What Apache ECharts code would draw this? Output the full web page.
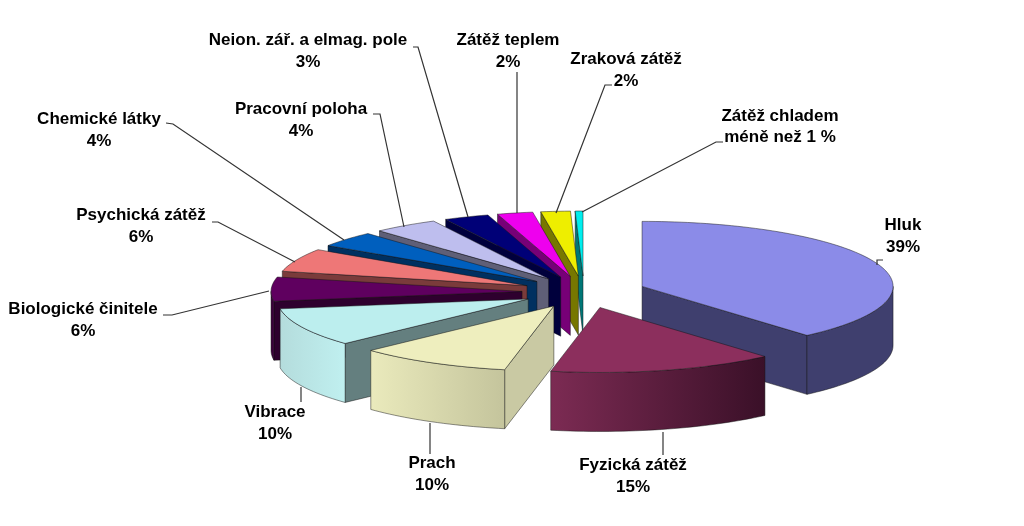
<!DOCTYPE html>
<html><head><meta charset="utf-8">
<style>html,body{margin:0;padding:0;background:#fff}#c{width:1024px;height:526px}</style>
<script src="https://cdn.jsdelivr.net/npm/echarts@6/dist/echarts.min.js"></script>
</head><body><div id="c"></div>
<script>
const categories = ['Hluk','Fyzická zátěž','Prach','Vibrace','Biologické činitele','Psychická zátěž','Chemické látky','Pracovní poloha','Neion. zář. a elmag. pole','Zátěž teplem','Zraková zátěž','Zátěž chladem'];
const values = [38.7,14.6,9.9,9.6,6,5.8,3.9,4.2,2.9,2.3,1.9,0.5];
const valueLabels = ['39%','15%','10%','10%','6%','6%','4%','4%','3%','2%','2%','méně než 1 %'];
const topColors = ['#8B8BE8','#8C2F5D','#EEEEBE','#BCEEEE','#5F005F','#EE7777','#005FBE','#BEBEEE','#000077','#EE00EE','#EEEE00','#00EEEE'];
const wallFrom = ['#3F3F6E','#7C2B53','#EAEABC','#B4DCDC','#3A003A','#7A3B3B','#003060','#5F5F77','#00003C','#770077','#777700','#007777'];
const wallTo   = ['#3F3F6E','#3A1028','#C4C49C','#C0F0F0','#3A003A','#7A3B3B','#003060','#5F5F77','#00003C','#770077','#777700','#007777'];
const sideColors = ['#3F3F6E','#4A1A34','#C9C9A3','#647F7F','#2E002E','#7A3B3B','#003060','#5F5F77','#00003C','#770077','#777700','#007777'];
const labelCentres = [[903,236.5],[633,476.5],[432,474.5],[275,423.5],[83,320.5],[141,226.5],[99,130.5],[301,120.5],[308,51.5],[508,51.5],[626,70.5],[780,127]];
const leaders = [
 [[883,260],[877,260],[877,265]],[[663,432],[663,455]],[[430,423],[430,454]],[[301,387],[301,402]],
 [[163,315],[172,315],[269,291]],[[212,222],[218,222],[295,262]],[[166,123],[173,124],[344,240]],
 [[373,114],[380,114],[404,227]],[[413,47],[418,47],[468,217]],[[517,72],[517,213]],
 [[612,85],[605,85],[556,213]],[[723,142],[716,142],[582,212]]
];
const PIE = {cx:584, cy:292, rx:251, ry:65, depth:59, ex:62, ey:16};
const total = values.reduce((a,b)=>a+b,0);
const rad = d => d*Math.PI/180;
let acc = 0;
const slices = values.map(v=>{const s={a:acc/total*360,b:(acc+v)/total*360};acc+=v;s.mid=(s.a+s.b)/2;return s;});
const order = slices.map((s,i)=>[Math.cos(rad(s.mid)),i]).sort((p,q)=>q[0]-p[0]).map(p=>p[1]);
const rank = []; order.forEach((i,k)=>rank[i]=k);

function renderItem(params, api){
  const i = params.dataIndex, s = slices[i];
  const ax = PIE.cx + PIE.ex*Math.sin(rad(s.mid));
  const ay = PIE.cy - PIE.ey*Math.cos(rad(s.mid));
  const P = d => [ax+PIE.rx*Math.sin(rad(d)), ay-PIE.ry*Math.cos(rad(d))];
  const down = p => [p[0],p[1]+PIE.depth];
  const arc = (f,t)=>{const n=Math.max(2,Math.ceil(Math.abs(t-f)/1.5));const o=[];for(let k=0;k<=n;k++)o.push(P(f+(t-f)*k/n));return o;};
  const line = {stroke:'rgba(20,20,20,0.8)',lineWidth:0.6,lineJoin:'round'};
  const z0 = rank[i]*10+1;
  const kids = [];
  const poly = (pts,fill,z)=>kids.push({type:'polygon',shape:{points:pts},style:Object.assign({fill},line),z2:z0+z});
  const sinA = Math.sin(rad(s.a)), sinB = Math.sin(rad(s.b));
  if(sinA<0){const r=P(s.a),A=[ax,ay];poly([A,r,down(r),down(A)],sideColors[i],0);}
  if(sinB>0){const r=P(s.b),A=[ax,ay];poly([A,r,down(r),down(A)],sideColors[i],0);}
  const f=Math.max(s.a,90),t=Math.min(s.b,270);
  if(t>f){
    const top=arc(f,t);
    const bot=top.map(down).reverse();
    poly(top.concat(bot),new echarts.graphic.LinearGradient(0,0,1,0,[{offset:0,color:wallFrom[i]},{offset:1,color:wallTo[i]}]),1);
  }
  poly([[ax,ay]].concat(arc(s.a,s.b)),topColors[i],2);
  return {type:'group',children:kids};
}
const graphic = [];
leaders.forEach(l=>graphic.push({type:'polyline',z:5,shape:{points:l},style:{stroke:'#333',lineWidth:1.2,fill:null}}));
categories.forEach((c,i)=>{
  graphic.push({type:'text',z:6,x:labelCentres[i][0],y:labelCentres[i][1],style:{text:c+'\n'+valueLabels[i],font:'bold 17px "Liberation Sans"',fill:'#000',align:'center',verticalAlign:'middle',lineHeight:21.5}});
});
const chart = echarts.init(document.getElementById('c'),null,{renderer:'canvas'});
chart.setOption({animation:false,backgroundColor:'#fff',graphic:graphic,
  series:[{type:'custom',coordinateSystem:'none',renderItem,data:values.map((v,i)=>({name:categories[i],value:v})),silent:true}]});
</script></body></html>
